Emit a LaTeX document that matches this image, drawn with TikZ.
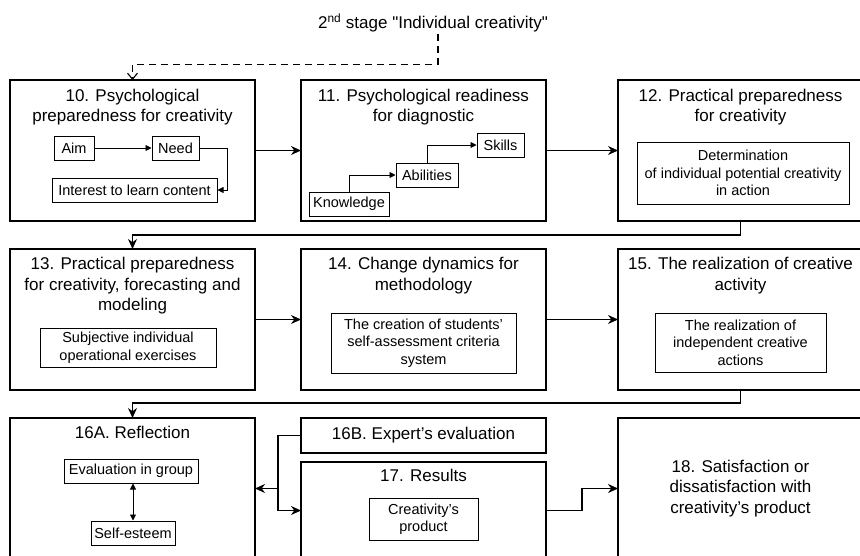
\documentclass[tikz,border=0pt]{standalone}
\usepackage{fontspec}
\setmainfont{Liberation Sans}
\newfontfamily\plainsans[Ligatures=TeXOff]{Liberation Sans}
\usepackage{tikz}
\usetikzlibrary{positioning}
\usetikzlibrary{arrows.meta}
\newcommand{\titlefont}{\fontsize{17}{20.5}\selectfont}
\newcommand{\itemfont}{\fontsize{14.5}{17.5}\selectfont}

\begin{document}
\begin{tikzpicture}[
            x=1pt, y=-1pt,
            node distance=28pt and 46pt,
            stagebox/.style={
                rectangle,
                draw=black,
                line width=1.5pt,
                minimum width=245pt,
                minimum height=141pt,
                inner sep=0pt,
                outer sep=0pt,
                font=\titlefont,
                align=center
            },
            title/.style={font=\titlefont, align=center, inner sep=0pt},
            item/.style={
                rectangle,
                draw=black,
                line width=1pt,
                font=\itemfont,
                align=center,
                inner sep=0pt,
                minimum height=24pt
            },
            flow/.style={line width=1.4pt, -{Stealth[length=10pt,width=9pt]}},
            link/.style={line width=0.9pt, -{Triangle[length=6pt,width=6pt]}},
            both/.style={line width=0.9pt, {Triangle[length=6pt,width=6pt]}-{Triangle[length=6pt,width=6pt]}},
            dashflow/.style={line width=1.1pt, dash pattern=on 7pt off 5pt, -{Straight Barb[length=6pt,width=10pt]}}
        ]
            \clip (0,0) rectangle (860,555);

            % Nodes
            \node[title] (stage) at (433,23) {2\textsuperscript{nd} stage {\plainsans "Individual creativity"}};

            \node[stagebox] (b10) at (132.5,150.5) {};
            \node[stagebox, right=of b10] (b11) {};
            \node[stagebox, right=72pt of b11] (b12) {};
            \node[stagebox, below=of b10] (b13) {};
            \node[stagebox, below=of b11] (b14) {};
            \node[stagebox, below=of b12] (b15) {};
            \node[stagebox, below=of b13] (b16a) {};
            \node[stagebox, below=of b14, minimum height=35pt] (b16b) {16B. Expert's evaluation};
            \node[stagebox, below=9pt of b16b, minimum height=97pt] (b17) {};
            \node[stagebox, below=of b15] (b18) {18. Satisfaction or\\dissatisfaction with\\creativity's product};

            \node[title, below=8.5pt of b10.north] (t10) {10. Psychological\\preparedness for creativity};
            \node[title, below=8.5pt of b11.north] (t11) {11. Psychological readiness\\for diagnostic};
            \node[title, below=8.5pt of b12.north] (t12) {12. Practical preparedness\\for creativity};
            \node[title, below=8pt of b13.north] (t13) {13. Practical preparedness\\for creativity, forecasting and\\modeling};
            \node[title, below=8pt of b14.north] (t14) {14. Change dynamics for\\methodology};
            \node[title, below=8pt of b15.north] (t15) {15. The realization of creative\\activity};
            \node[title, below=8pt of b16a.north] (t16a) {16A. Reflection};
            \node[title, below=7pt of b17.north] (t17) {17. Results};

            \node[item, minimum width=40pt] (aim) at (74,148) {Aim};
            \node[item, minimum width=47pt] (need) at (175.5,148) {Need};
            \node[item, minimum width=165pt] (interest) at (134.5,190) {Interest to learn content};
            \node[item, minimum width=80pt] (knowledge) at (349,204) {Knowledge};
            \node[item, minimum width=62pt] (abilities) at (427,175) {Abilities};
            \node[item, minimum width=47pt] (skills) at (500.5,145) {Skills};
            \node[item, minimum width=212pt, minimum height=62pt] (determination) at (743,173) {Determination\\of individual potential creativity\\in action};
            \node[item, minimum width=176pt, minimum height=39pt] (exercises) at (128,347.5) {Subjective individual\\operational exercises};
            \node[item, minimum width=185pt, minimum height=60pt] (criteria) at (423.5,343) {The creation of students'\\self-assessment criteria\\system};
            \node[item, minimum width=171pt, minimum height=59pt] (actions) at (740.5,342.5) {The realization of\\independent creative\\actions};
            \node[item, minimum width=134pt] (group) at (131,471) {Evaluation in group};
            \node[item, minimum width=84pt] (selfesteem) at (133,533) {Self-esteem};
            \node[item, minimum width=109pt, minimum height=42pt] (product) at (423.5,519) {Creativity's\\product};

            % Arrows
            \draw[dashflow] ([xshift=5pt,yshift=-2pt]stage.south) -- ++(0,30) -| (b10.north);
            \draw[flow] (b10) -- (b11);
            \draw[flow] (b11) -- (b12);
            \draw[flow] (b12.south) -- ++(0,14) -| (b13.north);
            \draw[flow] (b13) -- (b14);
            \draw[flow] (b14) -- (b15);
            \draw[flow] (b15.south) -- ++(0,13) -| (b16a.north);
            \coordinate[left=23pt of b16b.west] (fork);
            \draw[flow] (b16b.west) -- (fork) |- (b17.west);
            \draw[flow] (fork |- b16a.east) -- (b16a.east);
            \draw[flow] (b17.east) -- ++(36,0) |- (b18.west);

            \draw[link] (aim) -- (need);
            \draw[link] (need.east) -- ++(28,0) |- (interest.east);
            \draw[link] (knowledge.north) |- (abilities.west);
            \draw[link] (abilities.north) |- (skills.west);
            \draw[both] (selfesteem.north |- group.south) -- (selfesteem.north);
        \end{tikzpicture}
\end{document}
